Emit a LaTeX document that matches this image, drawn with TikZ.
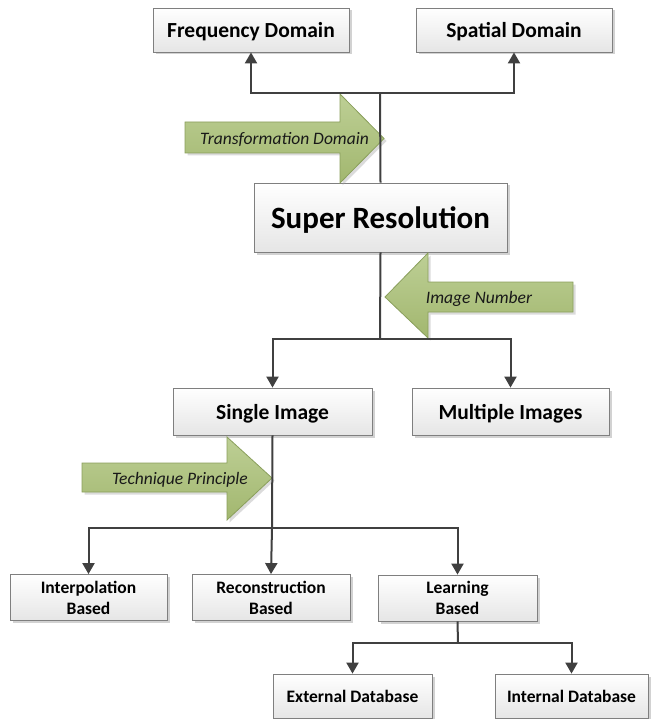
\documentclass[tikz,border=0pt]{standalone}
\usepackage{fontspec}
\setmainfont{Carlito}
\usetikzlibrary{arrows.meta,shadows}
\definecolor{linec}{HTML}{404040}
\definecolor{boxline}{HTML}{7F7F7F}
\definecolor{greentop}{HTML}{BDCF95}
\definecolor{greenbot}{HTML}{A2B76F}
\definecolor{greenline}{HTML}{8A9F5C}
\begin{document}
\begin{tikzpicture}[x=1pt,y=-1pt,
  box/.style={draw=boxline, line width=0.8pt, top color=white, bottom color=black!10,
    drop shadow={shadow xshift=2.5pt,shadow yshift=-2.5pt,fill=black!35,opacity=0.5},
    inner sep=0pt, align=center, font=\bfseries, text depth=0pt},
  midfont/.style={font=\bfseries\fontsize{21.5}{25}\selectfont},
  smallfont/.style={font=\bfseries\fontsize{17.5}{21}\selectfont},
  conn/.style={draw=linec, line width=2pt, -{Triangle[length=11pt,width=12pt]}},
  plain/.style={draw=linec, line width=2pt},
  garrow/.style={draw=greenline, line width=0.8pt, top color=greentop, bottom color=greenbot,
    drop shadow={shadow xshift=2.5pt,shadow yshift=-2.5pt,fill=black!35,opacity=0.4}},
  glabel/.style={font=\itshape\fontsize{17.5}{20}\selectfont, text=black!90, inner sep=0pt, text depth=0pt}]
\useasboundingbox (0,0) rectangle (652,719);

% boxes
\node[box,midfont,minimum width=196pt,minimum height=44pt] (fd) at (251,30) {Frequency Domain};
\node[box,midfont,minimum width=196pt,minimum height=44pt] (sd) at (514,30) {Spatial Domain};
\node[box,font=\bfseries\fontsize{31}{36}\selectfont,minimum width=253pt,minimum height=69pt] (sr) at (380.5,217.5) {Super Resolution};
\node[box,midfont,minimum width=199pt,minimum height=47pt] (si) at (272.5,411.5) {Single Image};
\node[box,midfont,minimum width=197pt,minimum height=47pt] (mi) at (510.5,411.5) {Multiple Images};
\node[box,smallfont,minimum width=157pt,minimum height=46pt] (ib) at (88.5,597.5) {Interpolation\\Based};
\node[box,smallfont,minimum width=158pt,minimum height=46pt] (rb) at (271,597.5) {Reconstruction\\Based};
\node[box,smallfont,minimum width=159pt,minimum height=46pt] (lb) at (457.5,598) {Learning\\Based};
\node[box,smallfont,minimum width=159pt,minimum height=44pt] (ed) at (352.5,696) {External Database};
\node[box,smallfont,minimum width=153pt,minimum height=44pt] (id) at (571.5,696) {Internal Database};

% green block arrows
\path[garrow] (185,122) -- (340,122) -- (340,94) -- (384,138.5) -- (340,183) -- (340,153) -- (185,153) -- cycle;
\node[glabel] (tdl) at (284.5,138) {Transformation Domain};
\path[garrow] (385,297) -- (428,253) -- (428,282) -- (573,282) -- (573,312) -- (428,312) -- (428,338) -- cycle;
\node[glabel] (inl) at (479,297) {Image Number};
\path[garrow] (82,463) -- (227,463) -- (227,437) -- (272,478) -- (227,520) -- (227,492) -- (82,492) -- cycle;
\node[glabel] (tpl) at (180,478) {Technique Principle};

% junctions
\coordinate (j1) at (380,93);
\coordinate (j2) at (380,339);
\coordinate (j3) at (272,528);
\coordinate (j4) at (458,643);

% connectors
\draw[plain] (sr.north) -- (j1);
\draw[conn] (j1) -| (fd.south);
\draw[conn] (j1) -| (sd.south);
\draw[plain] (sr.south) -- (j2);
\draw[conn] (j2) -| (si.north);
\draw[conn] (j2) -| (mi.north);
\draw[plain] (si.south) -- (j3);
\draw[conn] (j3) -| (ib.north);
\draw[conn] (j3) -- (rb.north);
\draw[conn] (j3) -| (lb.north);
\draw[plain] (lb.south) -- (j4);
\draw[conn] (j4) -| (ed.north);
\draw[conn] (j4) -| (id.north);
\end{tikzpicture}
\end{document}
